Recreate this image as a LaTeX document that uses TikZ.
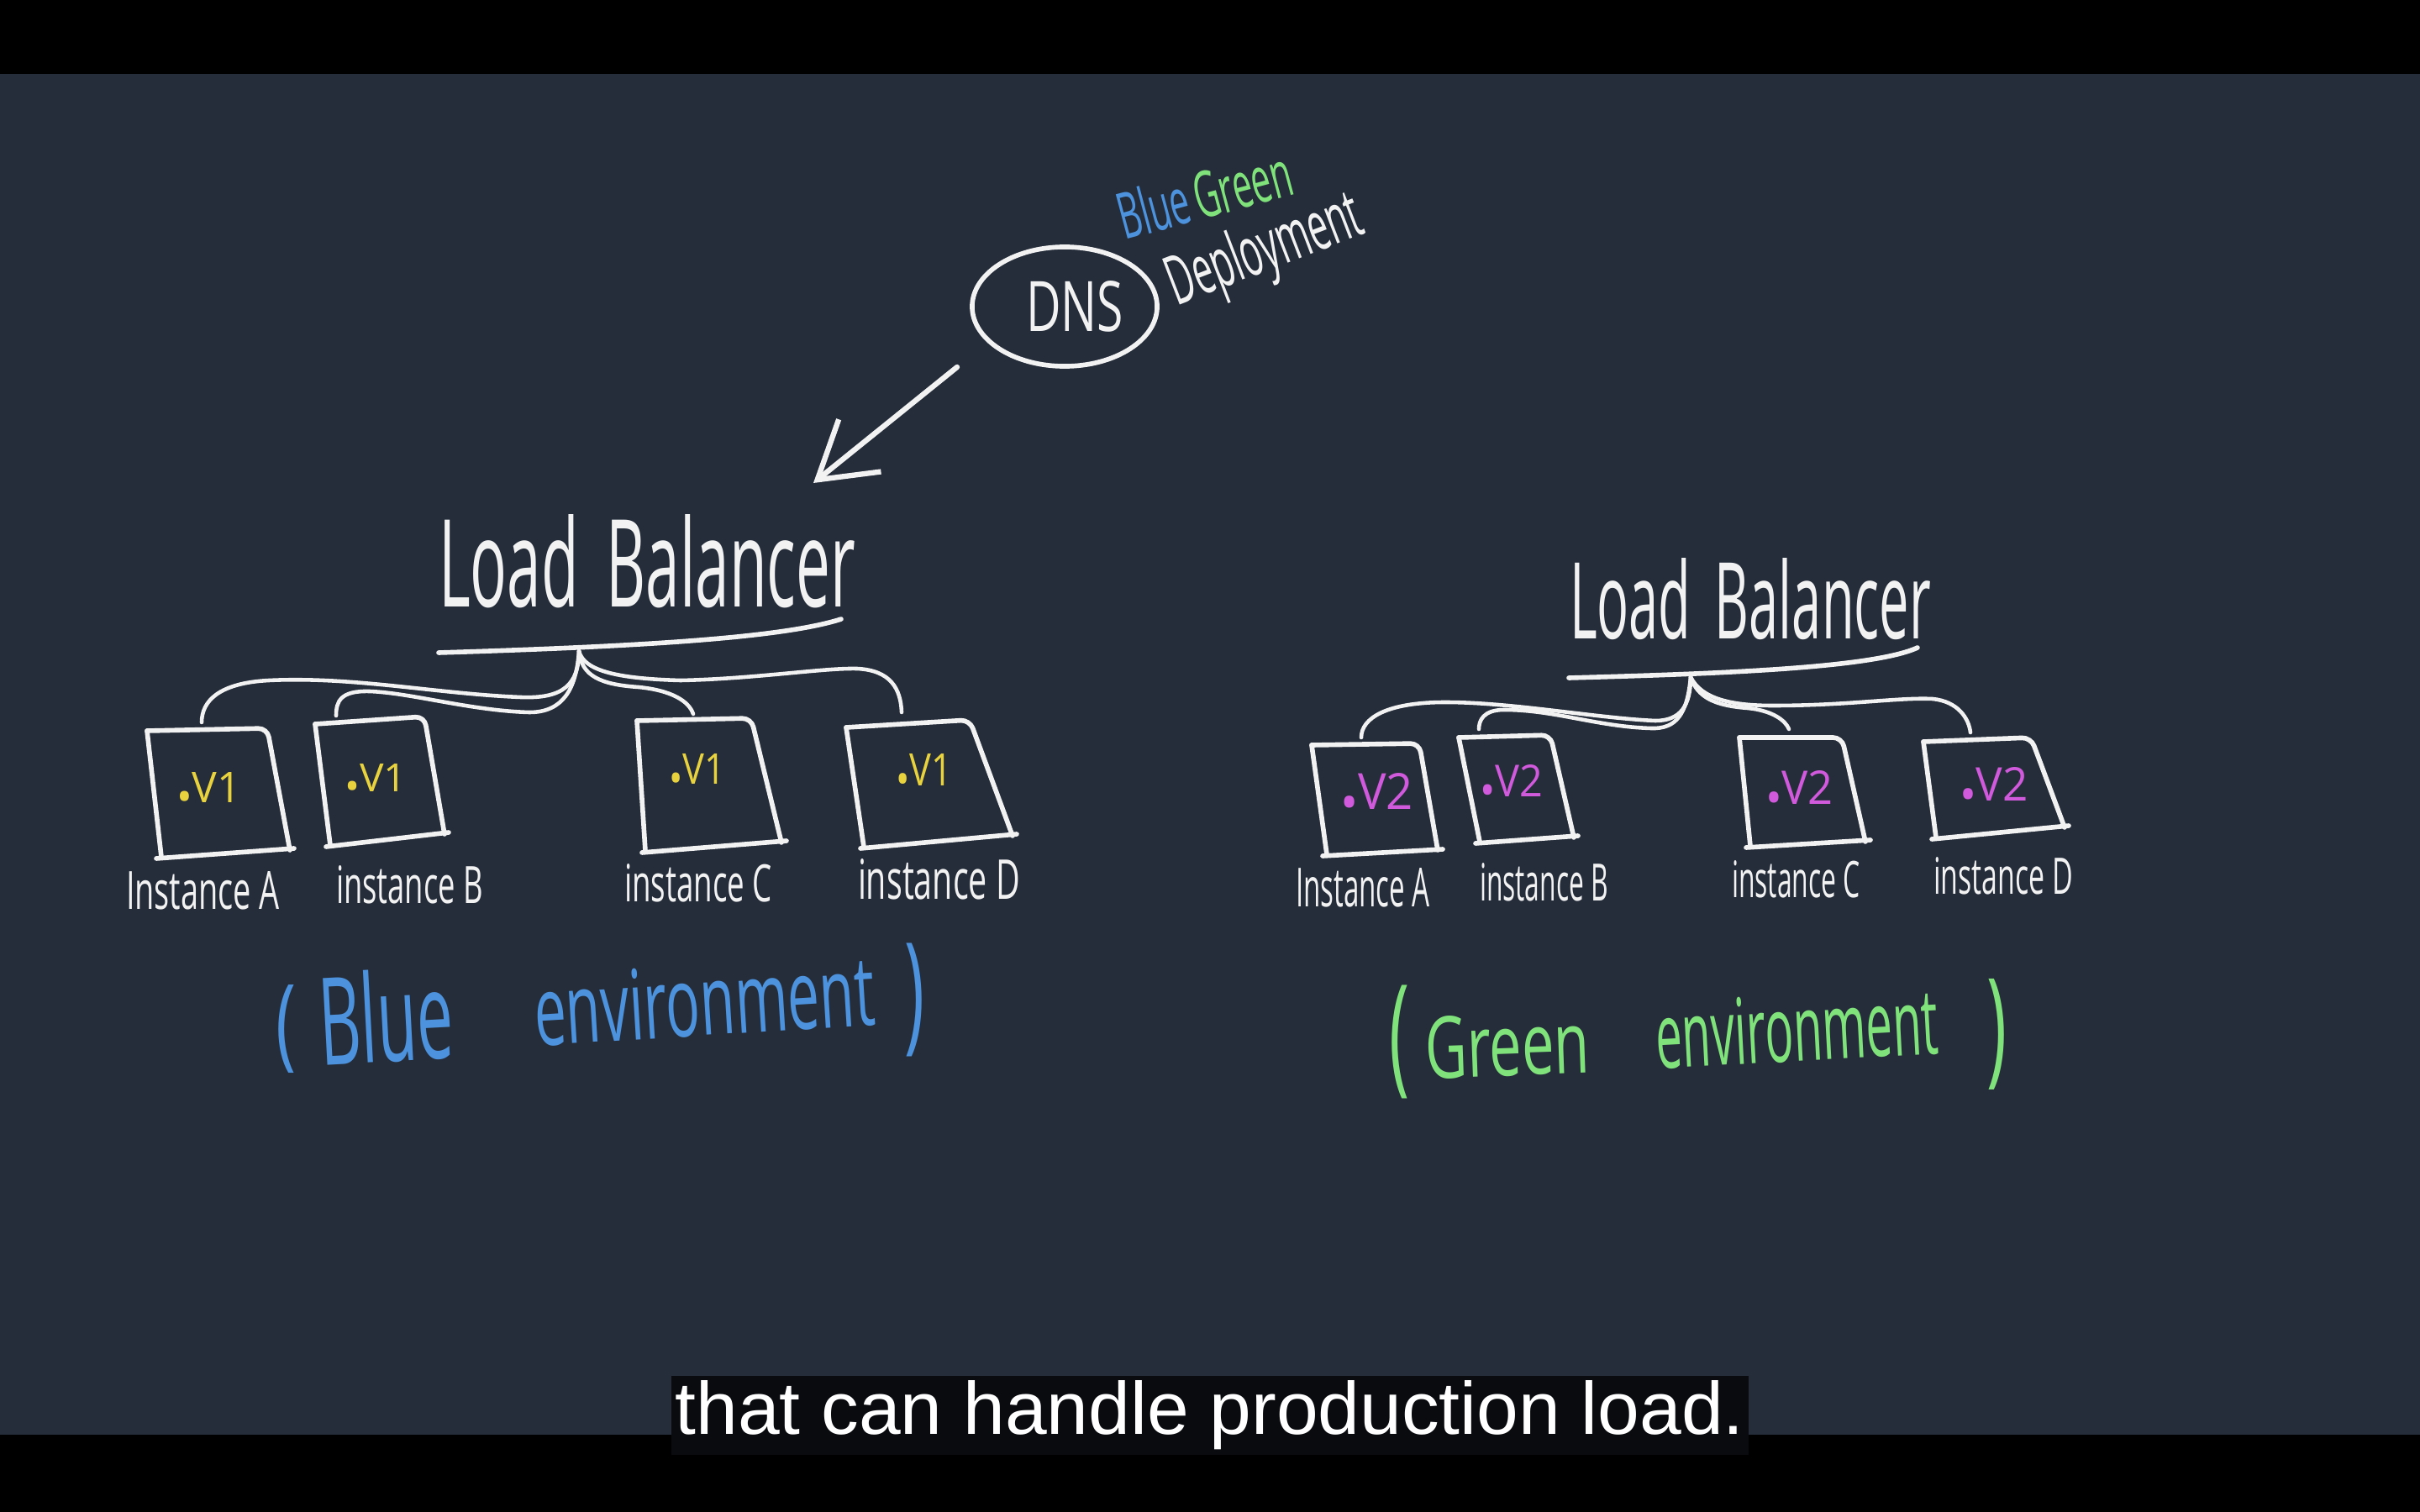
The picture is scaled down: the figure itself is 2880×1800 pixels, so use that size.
\documentclass[tikz,border=0pt]{standalone}
\usepackage{fontspec}
\usepackage{graphicx}
\usetikzlibrary{arrows.meta,shapes.geometric,calc}
\newfontfamily\hwfont{Open Sans}
\newfontfamily\vfont{Open Sans}
\newfontfamily\subfont{Liberation Sans}
\newlength\pxu \setlength\pxu{0.01cm}
\newcommand{\hw}[3]{\resizebox{#1\pxu}{#2\pxu}{#3}}
\newcommand{\hwp}[3]{\resizebox*{#1\pxu}{#2\pxu}{#3}}
\definecolor{bgc}{HTML}{252D3B}
\definecolor{subbg}{HTML}{0A0B0F}
\definecolor{inkw}{HTML}{F2F2F2}
\definecolor{yelC}{HTML}{E8D23E}
\definecolor{magC}{HTML}{D05ADB}
\definecolor{bluC}{HTML}{4C92DC}
\definecolor{grnC}{HTML}{80E27A}
\begin{document}
\begin{tikzpicture}[x=0.01cm,y=-0.01cm,
  wl/.style={draw=inkw, line width=1.6pt, line cap=round, line join=round, rounded corners=3pt},
  conn/.style={draw=inkw, line width=1.3pt, line cap=round},
  hwt/.style={inner sep=0pt, outer sep=0pt, anchor=base west, font=\hwfont, text=inkw},
  vlab/.style={hwt, font=\vfont},
  par/.style={inner sep=0pt, outer sep=0pt, anchor=center, font=\hwfont}]
\useasboundingbox (0,0) rectangle (2880,1800);
\fill[bgc] (0,0) rectangle (2880,1800);
\fill[black] (0,0) rectangle (2880,88);
\fill[black] (0,1708) rectangle (2880,1800);

% DNS and title
\node[ellipse, draw=inkw, line width=1.6pt, minimum width=2.2cm, minimum height=1.42cm, inner sep=0pt, font=\hwfont, text=inkw] (dns) at (1267,365) {\hspace{0.24cm}\hw{116}{60}{DNS}};
\node[hwt, rotate=15] (bgtitle) at (1338,286) {\hw{212}{58}{\textcolor{bluC}{Blue}\,\textcolor{grnC}{Green}}};
\node[hwt, rotate=21] (deptitle) at (1400,364) {\hw{243}{62}{Deployment}};
\coordinate (arrS) at (1139,437);
\coordinate (arrE) at (968,575);
\draw[draw=inkw, line width=1.8pt, line cap=round, -{Straight Barb[length=0.65cm,width=0.8cm,line width=1.8pt]}] (arrS) -- (arrE);

% ---------- Left (blue) ----------
\node[hwt] (lbL) at (522,722) {\hw{496}{110}{Load\hspace{0.45em}Balancer}};
\coordinate (uLs) at (522,777);
\coordinate (uLe) at (1001,737);
\coordinate (brL) at (689,775);
\draw[wl] (uLs) .. controls (750,770) and (930,760) .. (uLe);

% boxes
\draw[wl] (175,870) -- (318,867) -- (345,1012);
\draw[wl] (175,870) -- (192,1020);
\draw[wl] (186,1022) -- (350,1010);
\draw[wl] (375,862) -- (505,853) -- (529,993);
\draw[wl] (375,862) -- (393,1006);
\draw[wl] (388,1008) -- (534,991);
\draw[wl] (758,858) -- (894,855) -- (930,1003);
\draw[wl] (758,858) -- (768,1013);
\draw[wl] (764,1015) -- (936,1001);
\draw[wl] (1007,866) -- (1154,857) -- (1205,995);
\draw[wl] (1007,866) -- (1028,1008);
\draw[wl] (1024,1010) -- (1210,993);

\coordinate (tA) at (240,860);
\coordinate (tB) at (400,852);
\coordinate (tC) at (825,850);
\coordinate (tD) at (1073,848);

\draw[conn] (brL) .. controls (689,815) and (670,832) .. (620,830) .. controls (520,826) and (420,805) .. (320,810) .. controls (260,813) and (240,835) .. (tA);
\draw[conn] (brL) .. controls (686,820) and (670,848) .. (630,848) .. controls (560,846) and (490,825) .. (440,823) .. controls (405,822) and (400,835) .. (tB);
\draw[conn] (brL) .. controls (692,805) and (715,815) .. (760,818) .. controls (800,822) and (820,835) .. (tC);
\draw[conn] (brL) .. controls (695,800) and (740,808) .. (810,810) .. controls (900,808) and (980,795) .. (1020,796) .. controls (1060,798) and (1072,820) .. (tD);

\node[vlab, text=yelC] (vA) at (210,955) {\hw{77}{36}{{\raisebox{-0.22em}{•}}V1}};
\node[vlab, text=yelC] (vB) at (410,942) {\hw{74}{33}{{\raisebox{-0.22em}{•}}V1}};
\node[vlab, text=yelC] (vC) at (796,933) {\hw{67}{36}{{\raisebox{-0.22em}{•}}V1}};
\node[vlab, text=yelC] (vD) at (1066,935) {\hw{67}{38}{{\raisebox{-0.22em}{•}}V1}};

\node[hwt] (lA) at (150,1082) {\hw{183}{45}{Instance A}};
\node[hwt] (lB) at (400,1075) {\hw{175}{45}{instance B}};
\node[hwt] (lC) at (743,1073) {\hw{176}{45}{instance C}};
\node[hwt] (lD) at (1021,1070) {\hw{193}{48}{instance D}};

\node[par, text=bluC] (bp1) at (340,1225) {\hwp{24}{105}{(}};
\node[hwt, text=bluC, rotate=3] (bword) at (382,1268) {\hw{160}{110}{Blue}};
\node[hwt, text=bluC, rotate=3.5] (benv) at (638,1245) {\hw{406}{85}{environment}};
\node[par, text=bluC] (bp2) at (1088,1190) {\hwp{24}{135}{)}};

% ---------- Right (green) ----------
\node[hwt] (lbR) at (1868,760) {\hw{430}{96}{Load\hspace{0.45em}Balancer}};
\coordinate (uRs) at (1867,807);
\coordinate (uRe) at (2282,771);
\coordinate (brR) at (2012,806);
\draw[wl] (uRs) .. controls (2050,802) and (2230,795) .. (uRe);

\draw[wl] (1561,887) -- (1689,885) -- (1711,1012);
\draw[wl] (1561,887) -- (1579,1017);
\draw[wl] (1574,1019) -- (1717,1011);
\draw[wl] (1736,878) -- (1845,875) -- (1873,997);
\draw[wl] (1736,878) -- (1761,1002);
\draw[wl] (1756,1004) -- (1878,995);
\draw[wl] (2070,878) -- (2192,878) -- (2220,1002);
\draw[wl] (2070,878) -- (2083,1007);
\draw[wl] (2078,1009) -- (2226,1000);
\draw[wl] (2289,883) -- (2417,878) -- (2457,985);
\draw[wl] (2289,883) -- (2304,997);
\draw[wl] (2299,999) -- (2462,983);

\coordinate (tA2) at (1620,878);
\coordinate (tB2) at (1760,868);
\coordinate (tC2) at (2129,868);
\coordinate (tD2) at (2345,872);

\draw[conn] (brR) .. controls (2012,840) and (2000,858) .. (1970,858) .. controls (1900,855) and (1800,836) .. (1720,836) .. controls (1650,836) and (1620,855) .. (tA2);
\draw[conn] (brR) .. controls (2008,850) and (1995,868) .. (1965,867) .. controls (1900,865) and (1850,845) .. (1790,845) .. controls (1765,845) and (1760,858) .. (tB2);
\draw[conn] (brR) .. controls (2020,830) and (2040,840) .. (2080,843) .. controls (2110,846) and (2125,858) .. (tC2);
\draw[conn] (brR) .. controls (2025,832) and (2060,840) .. (2110,840) .. controls (2200,840) and (2260,830) .. (2300,832) .. controls (2330,835) and (2343,855) .. (tD2);

\node[vlab, text=magC] (wA) at (1595,963) {\hw{87}{43}{{\raisebox{-0.22em}{•}}V2}};
\node[vlab, text=magC] (wB) at (1761,948) {\hw{75}{38}{{\raisebox{-0.22em}{•}}V2}};
\node[vlab, text=magC] (wC) at (2101,957) {\hw{81}{40}{{\raisebox{-0.22em}{•}}V2}};
\node[vlab, text=magC] (wD) at (2332,953) {\hw{82}{40}{{\raisebox{-0.22em}{•}}V2}};

\node[hwt] (mA) at (1542,1079) {\hw{160}{46}{Instance A}};
\node[hwt] (mB) at (1761,1072) {\hw{153}{45}{instance B}};
\node[hwt] (mC) at (2061,1068) {\hw{153}{44}{instance C}};
\node[hwt] (mD) at (2301,1064) {\hw{166}{44}{instance D}};

\node[par, text=grnC] (gp1) at (1665,1240) {\hwp{24}{135}{(}};
\node[hwt, text=grnC, rotate=2] (gword) at (1697,1284) {\hw{196}{74}{Green}};
\node[hwt, text=grnC, rotate=3] (genv) at (1972,1272) {\hw{337}{80}{environment}};
\node[par, text=grnC] (gp2) at (2376,1231) {\hwp{24}{132}{)}};

% subtitle
\fill[subbg] (799,1638) rectangle (2081,1732);
\node[inner sep=0pt, anchor=base west, font=\subfont, text=white] (sub) at (803,1707) {\hw{1272}{64}{that can handle production load.}};
\end{tikzpicture}
\end{document}
